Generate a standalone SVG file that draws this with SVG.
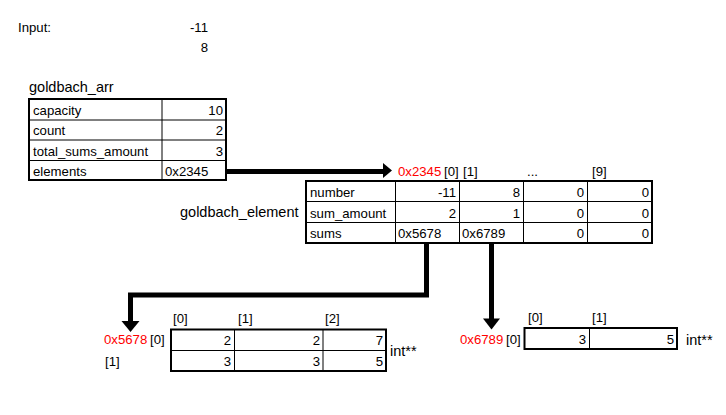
<svg xmlns="http://www.w3.org/2000/svg" width="726" height="415" viewBox="0 0 726 415">
<style>
text{font-family:"Liberation Sans",Arial,sans-serif;font-size:13.2px;fill:#000}
.r{text-anchor:end}
.red{fill:#ff0000}
.big{font-size:14.5px}
.outer{fill:#fff;stroke:#000;stroke-width:2}
.inner{stroke:#000;stroke-width:1;fill:none}
.conn{stroke:#000;stroke-width:5;fill:none}
.head{fill:#000}
</style>
<rect width="726" height="415" fill="#fff"/>

<g id="input">
<text x="18" y="32">Input:</text>
<text class="r" x="208" y="32">-11</text>
<text class="r" x="208" y="52">8</text>
</g>

<g id="goldbach_arr">
<text x="29" y="92" class="big">goldbach_arr</text>
<rect class="outer" x="29" y="99" width="197" height="81"/>
<path class="inner" d="M29 120H226M29 140H226M29 160.5H226M162 99V180"/>
<text x="33" y="115">capacity</text><text class="r" x="223" y="115">10</text>
<text x="33" y="135">count</text><text class="r" x="223" y="135">2</text>
<text x="33" y="156">total_sums_amount</text><text class="r" x="223" y="156">3</text>
<text x="33" y="176">elements</text><text x="165" y="176">0x2345</text>
</g>

<g id="goldbach_element">
<text x="180" y="217" class="big">goldbach_element</text>
<text x="398" y="176" class="red">0x2345</text>
<text x="444" y="176">[0]</text>
<text x="463" y="176">[1]</text>
<text x="527" y="176">...</text>
<text x="592" y="176">[9]</text>
<rect class="outer" x="306" y="181" width="346" height="62"/>
<path class="inner" d="M306 201.5H652M306 222.5H652M395.5 181V243M459.5 181V243M523.5 181V243M587.5 181V243"/>
<text x="310" y="197">number</text><text class="r" x="456" y="197">-11</text><text class="r" x="520" y="197">8</text><text class="r" x="584" y="197">0</text><text class="r" x="649" y="197">0</text>
<text x="310" y="218">sum_amount</text><text class="r" x="456" y="218">2</text><text class="r" x="520" y="218">1</text><text class="r" x="584" y="218">0</text><text class="r" x="649" y="218">0</text>
<text x="310" y="238">sums</text><text x="398" y="238">0x5678</text><text x="462" y="238">0x6789</text><text class="r" x="584" y="238">0</text><text class="r" x="649" y="238">0</text>
</g>

<g id="sums0">
<text x="173" y="323">[0]</text>
<text x="238" y="323">[1]</text>
<text x="325" y="323">[2]</text>
<text x="104" y="344" class="red">0x5678</text>
<text x="150" y="344">[0]</text>
<text x="105" y="366">[1]</text>
<rect class="outer" x="171" y="329.5" width="215" height="41.5"/>
<path class="inner" d="M171 350.5H386M234.5 329.5V371M323 329.5V371"/>
<text class="r" x="231" y="345">2</text><text class="r" x="320" y="345">2</text><text class="r" x="383" y="345">7</text>
<text class="r" x="231" y="366">3</text><text class="r" x="320" y="366">3</text><text class="r" x="383" y="366">5</text>
<text x="390" y="356" class="big">int**</text>
</g>

<g id="sums1">
<text x="528" y="322">[0]</text>
<text x="592" y="322">[1]</text>
<text x="460" y="344" class="red">0x6789</text>
<text x="506" y="344">[0]</text>
<rect class="outer" x="524.5" y="328" width="152.5" height="21"/>
<path class="inner" d="M589.5 328V349"/>
<text class="r" x="586" y="344">3</text><text class="r" x="674" y="344">5</text>
<text x="686" y="345" class="big">int**</text>
</g>

<g id="connectors">
<path class="conn" d="M227 171.5H384"/>
<polygon class="head" points="383,163 392,170.5 383,178"/>
<path class="conn" d="M426.5 243V295H130.5V322"/>
<polygon class="head" points="121.5,321 139.5,321 130.5,332"/>
<path class="conn" d="M491.5 243V320"/>
<polygon class="head" points="483,318.5 500,318.5 491.5,329.5"/>
</g>
</svg>
